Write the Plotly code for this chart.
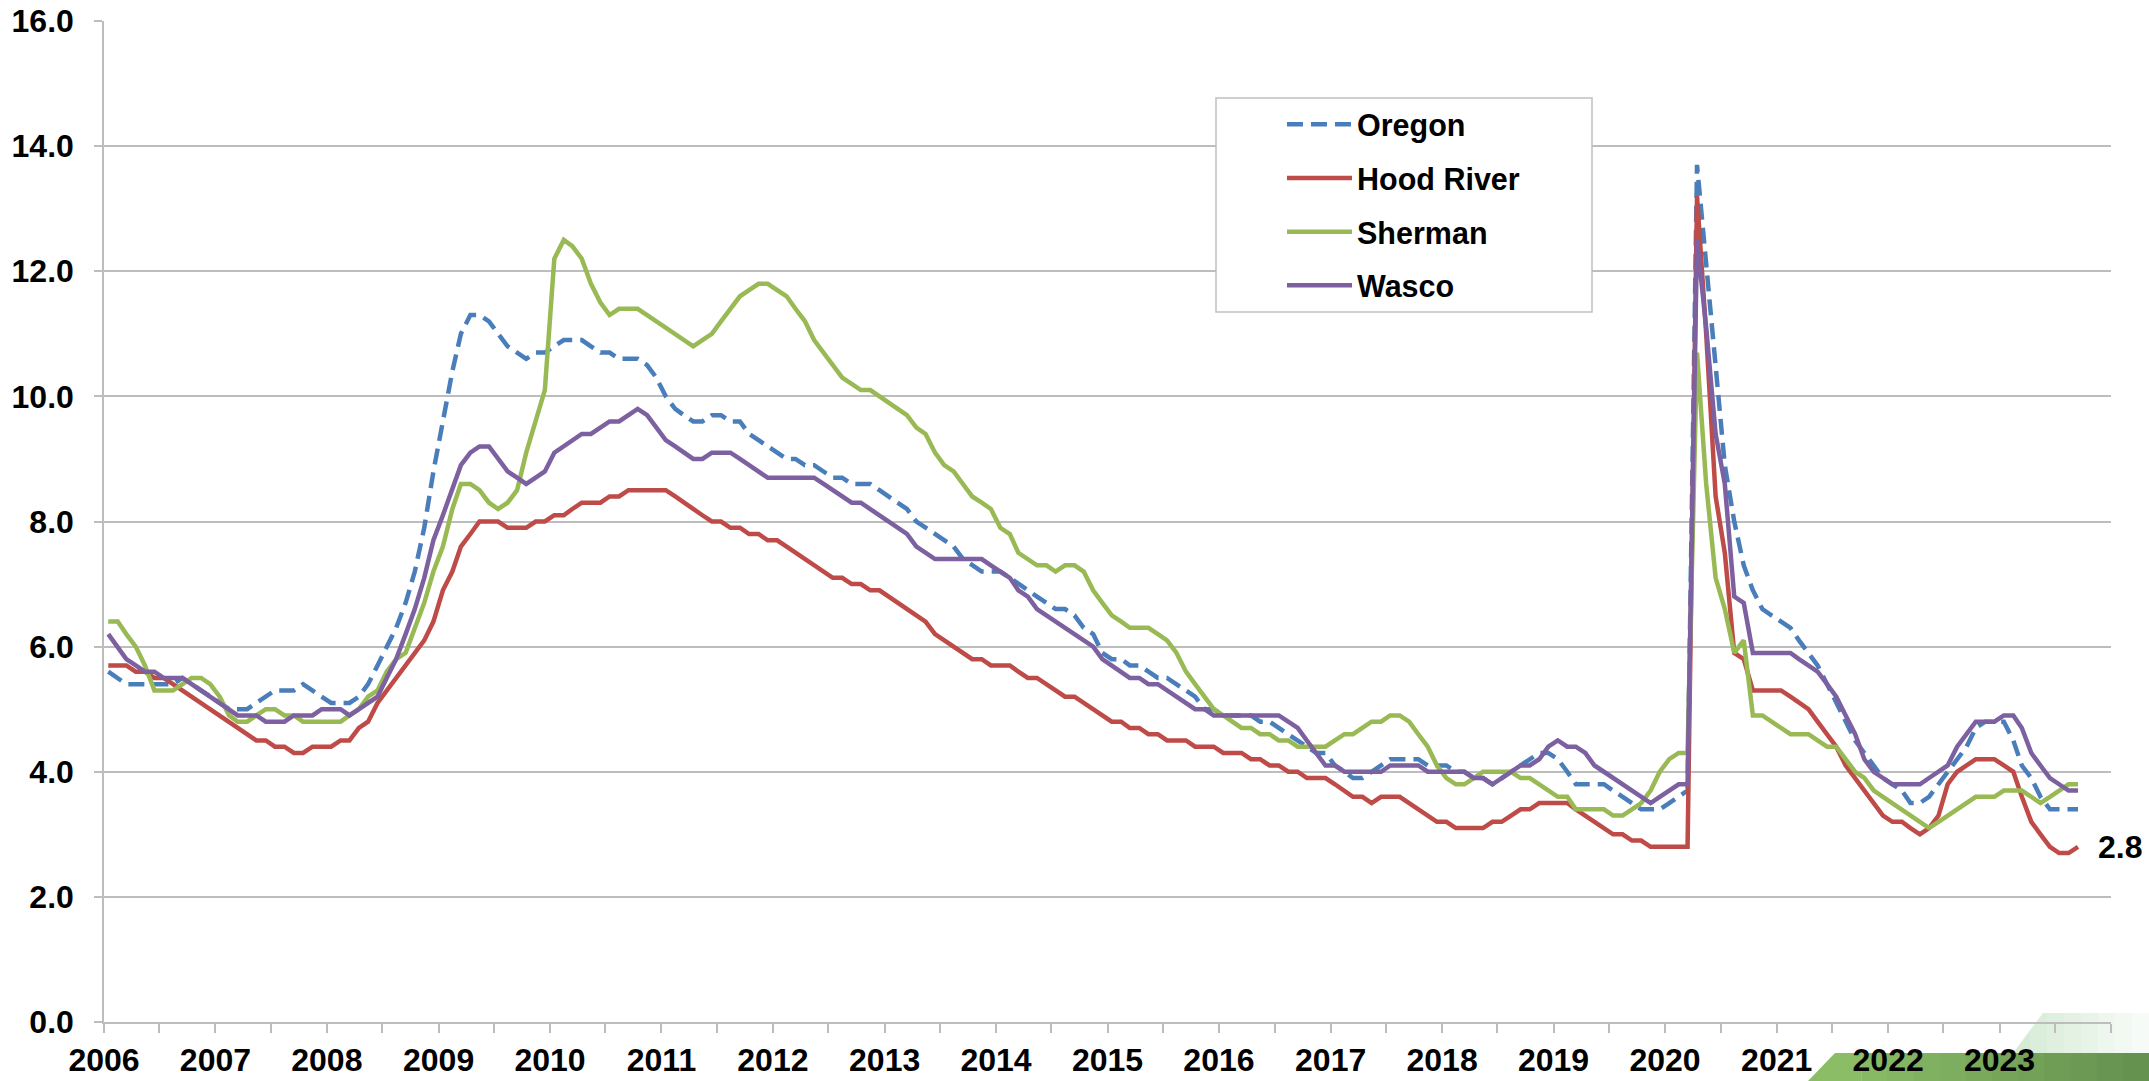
import plotly.graph_objects as go
import pandas as pd

# ---------------- data (monthly, Jan 2006 - Sep 2023) ----------------
oregon = [
    5.6, 5.5, 5.4, 5.4, 5.4, 5.4, 5.4, 5.4, 5.5, 5.4, 5.3, 5.2,
    5.1, 5.0, 5.0, 5.0, 5.1, 5.2, 5.3, 5.3, 5.3, 5.4, 5.3, 5.2,
    5.1, 5.1, 5.1, 5.2, 5.4, 5.7, 6.0, 6.3, 6.7, 7.2, 7.9, 8.8,
    9.6, 10.4, 11.0, 11.3, 11.3, 11.2, 11.0, 10.8, 10.7, 10.6, 10.7, 10.7,
    10.8, 10.9, 10.9, 10.9, 10.8, 10.7, 10.7, 10.6, 10.6, 10.6, 10.5, 10.3,
    10.0, 9.8, 9.7, 9.6, 9.6, 9.7, 9.7, 9.6, 9.6, 9.4, 9.3, 9.2,
    9.1, 9.0, 9.0, 8.9, 8.9, 8.8, 8.7, 8.7, 8.6, 8.6, 8.6, 8.5,
    8.4, 8.3, 8.2, 8.0, 7.9, 7.8, 7.7, 7.6, 7.4, 7.3, 7.2, 7.2,
    7.2, 7.1, 7.0, 6.9, 6.8, 6.7, 6.6, 6.6, 6.5, 6.3, 6.2, 5.9,
    5.8, 5.8, 5.7, 5.7, 5.6, 5.5, 5.5, 5.4, 5.3, 5.2, 5.0, 5.0,
    4.9, 4.9, 4.9, 4.9, 4.8, 4.8, 4.7, 4.6, 4.5, 4.4, 4.3, 4.3,
    4.1, 4.0, 3.9, 3.9, 4.0, 4.1, 4.2, 4.2, 4.2, 4.2, 4.1, 4.1,
    4.1, 4.0, 4.0, 3.9, 3.9, 3.8, 3.9, 4.0, 4.1, 4.2, 4.3, 4.3,
    4.2, 4.0, 3.8, 3.8, 3.8, 3.8, 3.7, 3.6, 3.5, 3.4, 3.4, 3.4,
    3.5, 3.6, 3.7, 13.7, 12.1, 10.4, 8.9, 8.0, 7.3, 6.9, 6.6, 6.5,
    6.4, 6.3, 6.1, 5.9, 5.7, 5.4, 5.1, 4.8, 4.5, 4.3, 4.1, 3.9,
    3.8, 3.7, 3.5, 3.5, 3.6, 3.8, 4.0, 4.2, 4.4, 4.7, 4.8, 4.8,
    4.8, 4.5, 4.1, 3.9, 3.6, 3.4, 3.4, 3.4, 3.4,
]
hood_river = [
    5.7, 5.7, 5.7, 5.6, 5.6, 5.5, 5.5, 5.4, 5.3, 5.2, 5.1, 5.0,
    4.9, 4.8, 4.7, 4.6, 4.5, 4.5, 4.4, 4.4, 4.3, 4.3, 4.4, 4.4,
    4.4, 4.5, 4.5, 4.7, 4.8, 5.1, 5.3, 5.5, 5.7, 5.9, 6.1, 6.4,
    6.9, 7.2, 7.6, 7.8, 8.0, 8.0, 8.0, 7.9, 7.9, 7.9, 8.0, 8.0,
    8.1, 8.1, 8.2, 8.3, 8.3, 8.3, 8.4, 8.4, 8.5, 8.5, 8.5, 8.5,
    8.5, 8.4, 8.3, 8.2, 8.1, 8.0, 8.0, 7.9, 7.9, 7.8, 7.8, 7.7,
    7.7, 7.6, 7.5, 7.4, 7.3, 7.2, 7.1, 7.1, 7.0, 7.0, 6.9, 6.9,
    6.8, 6.7, 6.6, 6.5, 6.4, 6.2, 6.1, 6.0, 5.9, 5.8, 5.8, 5.7,
    5.7, 5.7, 5.6, 5.5, 5.5, 5.4, 5.3, 5.2, 5.2, 5.1, 5.0, 4.9,
    4.8, 4.8, 4.7, 4.7, 4.6, 4.6, 4.5, 4.5, 4.5, 4.4, 4.4, 4.4,
    4.3, 4.3, 4.3, 4.2, 4.2, 4.1, 4.1, 4.0, 4.0, 3.9, 3.9, 3.9,
    3.8, 3.7, 3.6, 3.6, 3.5, 3.6, 3.6, 3.6, 3.5, 3.4, 3.3, 3.2,
    3.2, 3.1, 3.1, 3.1, 3.1, 3.2, 3.2, 3.3, 3.4, 3.4, 3.5, 3.5,
    3.5, 3.5, 3.4, 3.3, 3.2, 3.1, 3.0, 3.0, 2.9, 2.9, 2.8, 2.8,
    2.8, 2.8, 2.8, 13.2, 11.0, 8.4, 7.5, 5.9, 5.8, 5.3, 5.3, 5.3,
    5.3, 5.2, 5.1, 5.0, 4.8, 4.6, 4.4, 4.1, 3.9, 3.7, 3.5, 3.3,
    3.2, 3.2, 3.1, 3.0, 3.1, 3.3, 3.8, 4.0, 4.1, 4.2, 4.2, 4.2,
    4.1, 4.0, 3.6, 3.2, 3.0, 2.8, 2.7, 2.7, 2.8,
]
sherman = [
    6.4, 6.4, 6.2, 6.0, 5.7, 5.3, 5.3, 5.3, 5.4, 5.5, 5.5, 5.4,
    5.2, 4.9, 4.8, 4.8, 4.9, 5.0, 5.0, 4.9, 4.9, 4.8, 4.8, 4.8,
    4.8, 4.8, 4.9, 5.0, 5.2, 5.3, 5.6, 5.8, 5.9, 6.3, 6.7, 7.2,
    7.6, 8.2, 8.6, 8.6, 8.5, 8.3, 8.2, 8.3, 8.5, 9.1, 9.6, 10.1,
    12.2, 12.5, 12.4, 12.2, 11.8, 11.5, 11.3, 11.4, 11.4, 11.4, 11.3, 11.2,
    11.1, 11.0, 10.9, 10.8, 10.9, 11.0, 11.2, 11.4, 11.6, 11.7, 11.8, 11.8,
    11.7, 11.6, 11.4, 11.2, 10.9, 10.7, 10.5, 10.3, 10.2, 10.1, 10.1, 10.0,
    9.9, 9.8, 9.7, 9.5, 9.4, 9.1, 8.9, 8.8, 8.6, 8.4, 8.3, 8.2,
    7.9, 7.8, 7.5, 7.4, 7.3, 7.3, 7.2, 7.3, 7.3, 7.2, 6.9, 6.7,
    6.5, 6.4, 6.3, 6.3, 6.3, 6.2, 6.1, 5.9, 5.6, 5.4, 5.2, 5.0,
    4.9, 4.8, 4.7, 4.7, 4.6, 4.6, 4.5, 4.5, 4.4, 4.4, 4.4, 4.4,
    4.5, 4.6, 4.6, 4.7, 4.8, 4.8, 4.9, 4.9, 4.8, 4.6, 4.4, 4.1,
    3.9, 3.8, 3.8, 3.9, 4.0, 4.0, 4.0, 4.0, 3.9, 3.9, 3.8, 3.7,
    3.6, 3.6, 3.4, 3.4, 3.4, 3.4, 3.3, 3.3, 3.4, 3.5, 3.7, 4.0,
    4.2, 4.3, 4.3, 10.7, 8.6, 7.1, 6.6, 5.9, 6.1, 4.9, 4.9, 4.8,
    4.7, 4.6, 4.6, 4.6, 4.5, 4.4, 4.4, 4.2, 4.0, 3.9, 3.7, 3.6,
    3.5, 3.4, 3.3, 3.2, 3.1, 3.2, 3.3, 3.4, 3.5, 3.6, 3.6, 3.6,
    3.7, 3.7, 3.7, 3.6, 3.5, 3.6, 3.7, 3.8, 3.8,
]
wasco = [
    6.2, 6.0, 5.8, 5.7, 5.6, 5.6, 5.5, 5.5, 5.5, 5.4, 5.3, 5.2,
    5.1, 5.0, 4.9, 4.9, 4.9, 4.8, 4.8, 4.8, 4.9, 4.9, 4.9, 5.0,
    5.0, 5.0, 4.9, 5.0, 5.1, 5.2, 5.5, 5.8, 6.2, 6.6, 7.1, 7.7,
    8.1, 8.5, 8.9, 9.1, 9.2, 9.2, 9.0, 8.8, 8.7, 8.6, 8.7, 8.8,
    9.1, 9.2, 9.3, 9.4, 9.4, 9.5, 9.6, 9.6, 9.7, 9.8, 9.7, 9.5,
    9.3, 9.2, 9.1, 9.0, 9.0, 9.1, 9.1, 9.1, 9.0, 8.9, 8.8, 8.7,
    8.7, 8.7, 8.7, 8.7, 8.7, 8.6, 8.5, 8.4, 8.3, 8.3, 8.2, 8.1,
    8.0, 7.9, 7.8, 7.6, 7.5, 7.4, 7.4, 7.4, 7.4, 7.4, 7.4, 7.3,
    7.2, 7.1, 6.9, 6.8, 6.6, 6.5, 6.4, 6.3, 6.2, 6.1, 6.0, 5.8,
    5.7, 5.6, 5.5, 5.5, 5.4, 5.4, 5.3, 5.2, 5.1, 5.0, 5.0, 4.9,
    4.9, 4.9, 4.9, 4.9, 4.9, 4.9, 4.9, 4.8, 4.7, 4.5, 4.3, 4.1,
    4.1, 4.0, 4.0, 4.0, 4.0, 4.0, 4.1, 4.1, 4.1, 4.1, 4.0, 4.0,
    4.0, 4.0, 4.0, 3.9, 3.9, 3.8, 3.9, 4.0, 4.1, 4.1, 4.2, 4.4,
    4.5, 4.4, 4.4, 4.3, 4.1, 4.0, 3.9, 3.8, 3.7, 3.6, 3.5, 3.6,
    3.7, 3.8, 3.8, 12.5, 11.1, 9.4, 8.6, 6.8, 6.7, 5.9, 5.9, 5.9,
    5.9, 5.9, 5.8, 5.7, 5.6, 5.4, 5.2, 4.9, 4.6, 4.2, 4.0, 3.9,
    3.8, 3.8, 3.8, 3.8, 3.9, 4.0, 4.1, 4.4, 4.6, 4.8, 4.8, 4.8,
    4.9, 4.9, 4.7, 4.3, 4.1, 3.9, 3.8, 3.7, 3.7,
]

series_names = ["Oregon", "Hood River", "Sherman", "Wasco"]
series_values = [oregon, hood_river, sherman, wasco]

n_months = len(oregon)
dates = pd.date_range("2006-01-01", periods=n_months, freq="MS") + pd.Timedelta(days=14)

tick_years = list(range(2006, 2025))
tick_vals = []
tick_text = []
for yr in tick_years:
    tick_vals.append(f"{yr}-01-01")
    tick_text.append(str(yr) if yr < 2024 else "")
    if yr < 2024:
        tick_vals.append(f"{yr}-07-01")
        tick_text.append("")

# ---------------- styling ----------------
colors = ["#4A7EBB", "#BE4B48", "#98B954", "#7D60A0"]
dashes = ["16px,8px", "solid", "solid", "solid"]
FONT = "Liberation Sans, Arial, Helvetica, sans-serif"
GRID = "#bdbdbd"

fig = go.Figure()
for name, vals, col, dsh in zip(series_names, series_values, colors, dashes):
    fig.add_trace(go.Scatter(
        x=dates, y=vals, name=name, mode="lines",
        line=dict(color=col, width=4.5, dash=dsh),
        legendgroup=name,
    ))

# label for last Hood River value
fig.add_annotation(
    x=dates[-1], y=hood_river[-1], text=f"{hood_river[-1]:.1f}",
    showarrow=False, xanchor="left", yanchor="middle", xshift=18,
    font=dict(family=FONT, size=32, color="black", weight="bold"),
)

# plot-area pixel geometry -> paper coords helpers
PL, PR, PT, PB = 104, 2111, 21, 1022
def px(X):
    return (X - PL) / (PR - PL)
def py(Y):
    return (PB - Y) / (PB - PT)

shapes = []
# legend frame
shapes.append(dict(type="rect", xref="paper", yref="paper",
                   x0=px(1216), x1=px(1592), y0=py(312), y1=py(98),
                   line=dict(color="#c0c0c0", width=1.5), fillcolor="white",
                   layer="above"))

# decorative green band at bottom-right (gradient approximated by strips)
c0 = (139, 189, 102)
c1 = (102, 146, 80)
xs = [1835 + i * (2149 - 1835) / 12 for i in range(13)]
for i in range(12):
    t = i / 11
    col = "rgb(%d,%d,%d)" % tuple(int(c0[k] + (c1[k] - c0[k]) * t) for k in range(3))
    if i == 0:
        path = (f"M {px(1808)} {py(1081)} L {px(1835)} {py(1053)} "
                f"L {px(xs[1])} {py(1053)} L {px(xs[1])} {py(1081)} Z")
    else:
        path = (f"M {px(xs[i])} {py(1081)} L {px(xs[i])} {py(1053)} "
                f"L {px(xs[i+1]) + 0.001} {py(1053)} L {px(xs[i+1]) + 0.001} {py(1081)} Z")
    shapes.append(dict(type="path", xref="paper", yref="paper", path=path,
                       fillcolor=col, line=dict(width=0), layer="below"))

# pale faded wedge above the band
fx = [2013 + i * (2149 - 2013) / 8 for i in range(9)]
for i in range(8):
    a = 0.30 * (1 - i / 8) + 0.03
    xl, xr = fx[i], fx[i + 1]
    if xr <= 2043:
        ytop_l = 1053 - (xl - 2013) * 40 / 30
        ytop_r = 1053 - (xr - 2013) * 40 / 30
        path = (f"M {px(xl)} {py(1053)} L {px(xl)} {py(ytop_l)} L {px(xr)} {py(ytop_r)} "
                f"L {px(xr)} {py(1053)} Z")
    elif xl < 2043:
        ytop_l = 1053 - (xl - 2013) * 40 / 30
        path = (f"M {px(xl)} {py(1053)} L {px(xl)} {py(ytop_l)} L {px(2043)} {py(1013)} "
                f"L {px(xr)} {py(1013)} L {px(xr)} {py(1053)} Z")
    else:
        path = (f"M {px(xl)} {py(1053)} L {px(xl)} {py(1013)} L {px(xr)} {py(1013)} "
                f"L {px(xr)} {py(1053)} Z")
    shapes.append(dict(type="path", xref="paper", yref="paper", path=path,
                       fillcolor=f"rgba(130,195,130,{a:.3f})", line=dict(width=0),
                       layer="below"))

fig.update_layout(
    width=2149, height=1081,
    margin=dict(l=PL, r=2149 - PR, t=PT, b=1081 - PB, autoexpand=False),
    plot_bgcolor="rgba(0,0,0,0)", paper_bgcolor="white",
    font=dict(family=FONT, color="black"),
    shapes=shapes,
    showlegend=True,
    legend=dict(
        x=px(1282), y=py(98), xanchor="left", yanchor="top",
        bgcolor="rgba(0,0,0,0)", borderwidth=0,
        font=dict(family=FONT, size=30.5, color="black", weight="bold"),
        itemwidth=65, traceorder="grouped", tracegroupgap=11,
    ),
    xaxis=dict(
        type="date", range=["2006-01-01", "2024-01-01"],
        showgrid=False, zeroline=False,
        showline=True, linecolor=GRID, linewidth=1.5,
        ticks="outside", ticklen=9, tickwidth=1.5, tickcolor=GRID,
        tickmode="array", tickvals=tick_vals, ticktext=tick_text,
        tickfont=dict(family=FONT, size=32, color="black", weight="bold"),
        ticklabelstandoff=0,
    ),
    yaxis=dict(
        range=[0, 16], dtick=2, tick0=0, tickformat=".1f",
        showgrid=True, gridcolor=GRID, gridwidth=1.5,
        zeroline=False,
        showline=True, linecolor=GRID, linewidth=1.5,
        ticks="outside", ticklen=8, tickwidth=1.5, tickcolor=GRID,
        tickfont=dict(family=FONT, size=32, color="black", weight="bold"),
        ticklabelstandoff=14,
    ),
)

fig.write_html(
    "out.html",
    config={"displayModeBar": False},
    post_script="document.body.style.margin='0px';document.body.style.overflow='hidden';",
)
